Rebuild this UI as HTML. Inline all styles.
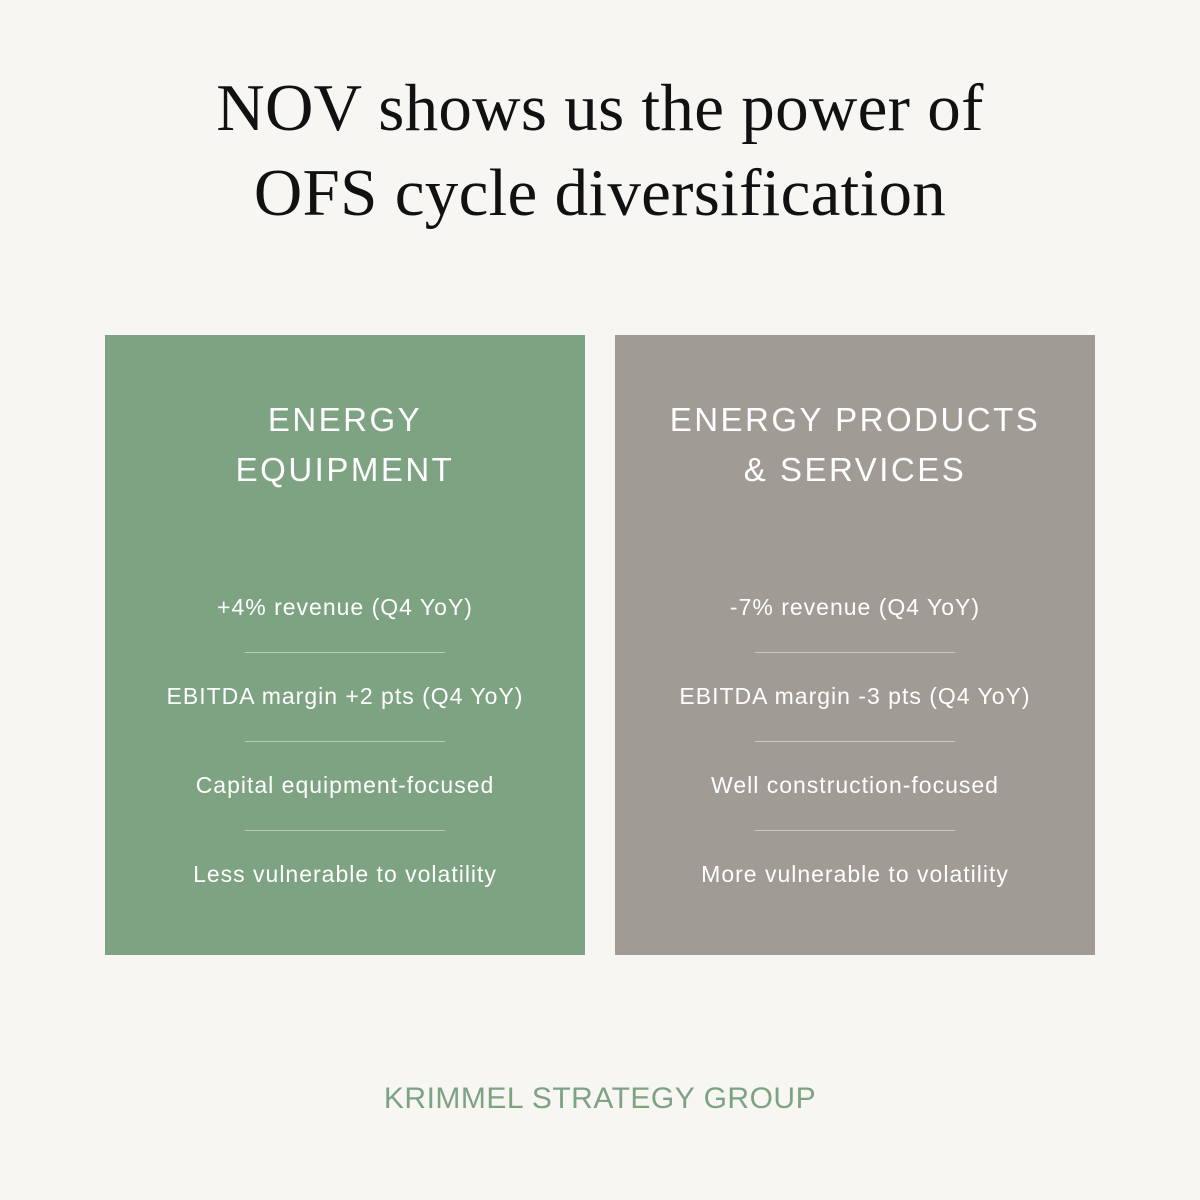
<!DOCTYPE html>
<html><head><meta charset="utf-8"><style>
body{margin:0;width:1200px;height:1200px;background:#f7f6f2;position:relative;overflow:hidden;font-family:"Liberation Sans",sans-serif}
.t{position:absolute;left:0;width:1200px;text-align:center;font-family:"Liberation Serif",serif;font-size:67px;color:#111;line-height:1;letter-spacing:0.3px}
.card{position:absolute;top:335px;width:480px;height:620px;color:#fff;text-align:center}
.h{position:absolute;left:0;width:100%;font-size:33px;letter-spacing:2.5px;line-height:50px}
.i{position:absolute;left:0;width:100%;font-size:23px;line-height:1;letter-spacing:1px}
.d{position:absolute;left:140px;width:200px;height:1px;background:rgba(255,255,255,.45)}
.f{position:absolute;top:1082px;left:0;width:1200px;text-align:center;color:#7da383;font-size:30px;letter-spacing:.5px}
</style></head><body>
<div class="t" style="top:75px">NOV shows us the power of</div>
<div class="t" style="top:160px">OFS cycle diversification</div>
<div class="card" style="left:105px;background:#7da383">
<div class="h" style="top:60px">ENERGY<br>EQUIPMENT</div>
<div class="i" style="top:261px">+4% revenue (Q4 YoY)</div>
<div class="d" style="top:317px"></div>
<div class="i" style="top:350px">EBITDA margin +2 pts (Q4 YoY)</div>
<div class="d" style="top:406px"></div>
<div class="i" style="top:439px">Capital equipment-focused</div>
<div class="d" style="top:495px"></div>
<div class="i" style="top:528px">Less vulnerable to volatility</div>
</div>
<div class="card" style="left:615px;background:#a09b94">
<div class="h" style="top:60px">ENERGY PRODUCTS<br>&amp; SERVICES</div>
<div class="i" style="top:261px">-7% revenue (Q4 YoY)</div>
<div class="d" style="top:317px"></div>
<div class="i" style="top:350px">EBITDA margin -3 pts (Q4 YoY)</div>
<div class="d" style="top:406px"></div>
<div class="i" style="top:439px">Well construction-focused</div>
<div class="d" style="top:495px"></div>
<div class="i" style="top:528px">More vulnerable to volatility</div>
</div>
<div class="f">KRIMMEL STRATEGY GROUP</div>
</body></html>
